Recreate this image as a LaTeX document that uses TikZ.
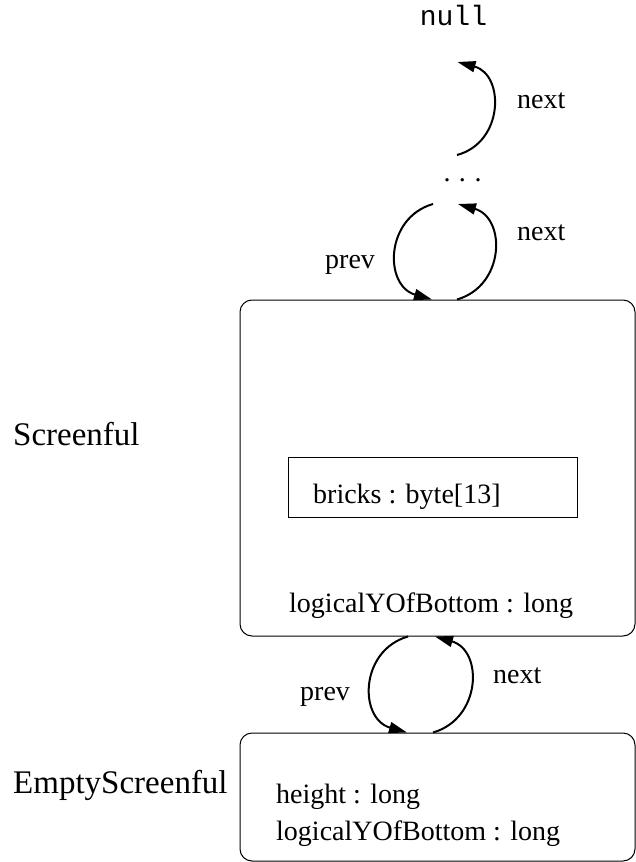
\documentclass[tikz,border=0pt]{standalone}
\usepackage{fontspec}
\setmainfont{Liberation Serif}
\newfontfamily\codefont{Liberation Mono}
\usetikzlibrary{arrows.meta}
\begin{document}
\begin{tikzpicture}[x=1pt,y=-1pt,
  txt/.style={inner sep=0pt,anchor=base west,font=\fontsize{28}{33}\selectfont},
  cls/.style={inner sep=0pt,anchor=base west,font=\fontsize{33}{39}\selectfont},
  classbox/.style={draw,line width=1pt,rounded corners=12pt,minimum width=395pt,inner sep=0pt},
  attrbox/.style={draw,line width=1pt,minimum width=289pt,minimum height=60pt,inner sep=0pt},
  link/.style={line width=2pt,-{Triangle[length=18pt,width=11pt]},looseness=1.34},
]
\useasboundingbox (0,0) rectangle (636,862);
% nodes
\node[inner sep=0pt,anchor=base,font=\codefont\fontsize{28}{33}\selectfont] (nul) at (453.5,25) {null};
\node[inner sep=0pt,anchor=base,font=\fontsize{28}{33}\selectfont] (dots) at (462.5,181) {.\kern8.5pt.\kern8.5pt.};
\node[classbox,minimum height=336pt] (scr) at (437.5,468) {};
\node[attrbox] (bricksbox) at (432.5,487) {};
\node[txt] (bricks) at (313,503) {bricks : byte[13]};
\node[txt] (scrlog) at (289,612) {logicalYOfBottom : long};
\node[cls] (scrname) at (13,445) {Screenful};
\node[classbox,minimum height=128pt] (emp) at (437.5,797) {};
\node[txt] (height) at (276,803) {height : long};
\node[txt] (emplog) at (276,840) {logicalYOfBottom : long};
\node[cls] (empname) at (13,793) {EmptyScreenful};
% labels
\node[txt] (nexttop) at (517,108) {next};
\node[txt] (nextmid) at (517,240) {next};
\node[txt] (prevmid) at (325,268) {prev};
\node[txt] (nextbot) at (493,683) {next};
\node[txt] (prevbot) at (300,700) {prev};
% connectors
\draw[link] ([xshift=-5.5pt,yshift=26pt]dots.base) to[out=15,in=-15] ([xshift=4pt,yshift=-37pt]nul.base);
\draw[link] ([xshift=19.5pt]scr.north) to[out=16,in=-16] ([xshift=-4.5pt,yshift=-23pt]dots.base);
\draw[link] ([xshift=-29.5pt,yshift=-23pt]dots.base) to[out=196,in=164] ([xshift=-5.5pt]scr.north);
\draw[link] ([xshift=-4.5pt]emp.north) to[out=16,in=-16] ([xshift=-2.5pt]scr.south);
\draw[link] ([xshift=-29.5pt]scr.south) to[out=196,in=164] ([xshift=-30.5pt]emp.north);
\end{tikzpicture}
\end{document}
